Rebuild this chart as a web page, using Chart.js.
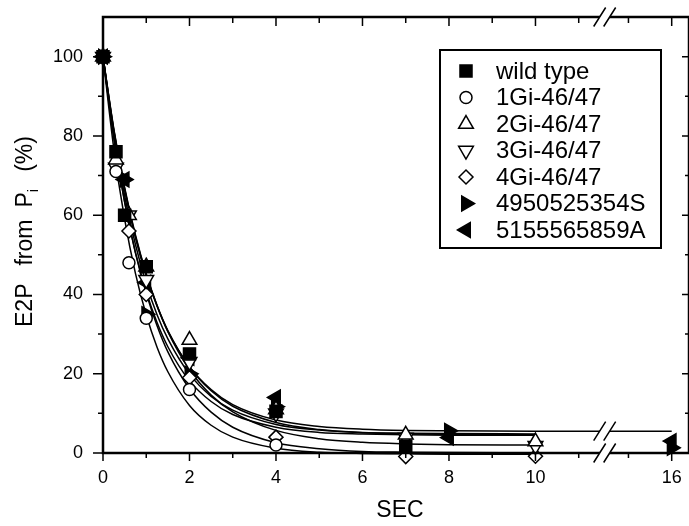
<!DOCTYPE html>
<html>
<head>
<meta charset="utf-8">
<script src="https://cdn.jsdelivr.net/npm/chart.js@4.4.1/dist/chart.umd.min.js"></script>
<style>
  html, body { margin: 0; padding: 0; background: #fff; }
  canvas { display: block; }
</style>
</head>
<body>
<canvas id="e2pChart" width="689" height="526"></canvas>
<script>
// tempi di campionamento (s)
const timesWild = [0, 0.3, 0.5, 1, 2, 4, 7];
const timesGi = [0, 0.3, 0.6, 1, 2, 4, 7, 10];
const timesSA = [0, 0.5, 1, 2, 4, 8, 16];

// E2P da Pi (%) misurato
const wildType = [100, 76, 60, 47, 25, 10.5, 1.7];
const gi1 = [100, 71, 48, 34, 16, 2, -2, -2];
const gi2 = [100, 74, 60, 47, 28.5, 11, 4.6, 2.9];
const gi3 = [100, 72, 60, 43.7, 23, 10, 3.9, 1.8];
const gi4 = [100, 73, 56, 40, 19, 4, -0.9, -0.8];
const mut4950 = [100, 69, 35, 20, 11.7, 5.6, 1.3];
const mut5155 = [100, 69, 43, 24, 14, 3.9, 3];

// curve di fit (valori letti ai tempi fitTimes)
const fitTimes = [0, 0.25, 0.5, 0.75, 1, 1.25, 1.5, 2, 2.5, 3, 4, 5, 6, 7, 8, 10];
const fitTimesLong = [0, 0.25, 0.5, 0.75, 1, 1.25, 1.5, 2, 2.5, 3, 4, 5, 6, 7, 8, 10, 16];
const fitWild = [100, 80.4, 64.9, 52.6, 42.7, 34.9, 28.8, 19.9, 14.3, 10.8, 7.2, 5.8, 5.2, 5.0, 4.9, 4.8];
const fitGi1 = [100, 76.8, 59.0, 45.3, 34.8, 26.7, 20.5, 12.0, 7.0, 4.0, 1.2, 0.2, -0.1, -0.2, -0.3, -0.3];
const fitGi2 = [100, 81.5, 66.7, 54.7, 45.0, 37.2, 30.9, 21.7, 15.7, 11.8, 7.7, 5.9, 5.1, 4.8, 4.7, 4.6];
const fitGi3 = [100, 81.8, 67.0, 55.0, 45.2, 37.2, 30.6, 21.0, 14.6, 10.4, 5.7, 3.6, 2.7, 2.3, 2.1, 2.0];
const fitGi4 = [100, 79.7, 63.4, 50.5, 40.3, 32.1, 25.5, 16.2, 10.3, 6.5, 2.6, 1.1, 0.4, 0.2, 0.1, 0.0];
const fit4950 = [100, 79.4, 63.3, 50.6, 40.7, 32.9, 26.8, 18.2, 13.0, 9.7, 6.5, 5.2, 4.8, 4.6, 4.5, 4.5];
const fit5155 = [100, 81.3, 66.4, 54.3, 44.7, 37.0, 30.7, 21.8, 16.0, 12.2, 8.3, 6.7, 6.0, 5.7, 5.6, 5.5, 5.5];

// etichette e tacche degli assi
const xTickValues = [0, 2, 4, 6, 8, 10, 16];
const xMinorTicks = [1, 3, 5, 7, 9, 11, 15];
const yTickValues = [0, 20, 40, 60, 80, 100];
const yMinorTicks = [10, 30, 50, 70, 90];

// asse X interrotto: dopo BREAK_AT i tempi vengono spostati indietro
const BREAK_AT = 11.6;
const BREAK_SHIFT = 2.85;
function axisX(t) {
    return t > BREAK_AT ? t - BREAK_SHIFT : t;
}

const FONT = '"Liberation Sans", Arial, Helvetica, sans-serif';

const series = [
    { label: "wild type", t: timesWild, v: wildType, ft: fitTimes, fv: fitWild, style: "rect", rot: 0, r: 8.5, fill: "#000" },
    { label: "1Gi-46/47", t: timesGi, v: gi1, ft: fitTimes, fv: fitGi1, style: "circle", rot: 0, r: 6, fill: "#fff" },
    { label: "2Gi-46/47", t: timesGi, v: gi2, ft: fitTimes, fv: fitGi2, style: "triangle", rot: 0, r: 8.5, fill: "#fff" },
    { label: "3Gi-46/47", t: timesGi, v: gi3, ft: fitTimes, fv: fitGi3, style: "triangle", rot: 180, r: 8.5, fill: "#fff" },
    { label: "4Gi-46/47", t: timesGi, v: gi4, ft: fitTimes, fv: fitGi4, style: "rectRot", rot: 0, r: 7, fill: "#fff" },
    { label: "4950525354S", t: timesSA, v: mut4950, ft: fitTimes, fv: fit4950, style: "triangle", rot: 90, r: 8.5, fill: "#000" },
    { label: "5155565859A", t: timesSA, v: mut5155, ft: fitTimesLong, fv: fit5155, style: "triangle", rot: 270, r: 8.5, fill: "#000" }
];

const markerSets = series.map(s => ({
    label: s.label,
    data: s.t.map((t, i) => ({ x: axisX(t), y: s.v[i] })),
    showLine: false,
    pointStyle: s.style,
    pointRotation: s.rot,
    pointRadius: s.r,
    pointBorderWidth: 1.5,
    pointBorderColor: "#000",
    pointBackgroundColor: s.fill,
    clip: false
}));

const curveSets = series.map(s => ({
    label: s.label + " fit",
    data: s.ft.map((t, i) => ({ x: axisX(t), y: s.fv[i] })),
    borderColor: "#000",
    borderWidth: 1.5,
    pointRadius: 0,
    cubicInterpolationMode: "monotone",
    fill: false,
    clip: false
}));

// niente margini automatici per le etichette: l'area del grafico resta fissa
function noPadding(scale) {
    scale.paddingTop = 0;
    scale.paddingBottom = 0;
    scale.paddingLeft = 0;
    scale.paddingRight = 0;
}

// cornice con tacche (esterne a sinistra/sotto, interne sopra/destra)
const framePlugin = {
    id: "frame",
    afterDatasetsDraw(chart) {
        const { ctx, chartArea: a, scales: { x, y } } = chart;
        ctx.save();
        ctx.strokeStyle = "#000";
        ctx.lineWidth = 2.5;
        ctx.strokeRect(a.left, a.top, a.right - a.left, a.bottom - a.top);

        ctx.lineWidth = 1.5;
        ctx.beginPath();
        const xTick = (t, down, up) => {
            const px = x.getPixelForValue(axisX(t));
            ctx.moveTo(px, a.bottom); ctx.lineTo(px, a.bottom + down);
            ctx.moveTo(px, a.top); ctx.lineTo(px, a.top + up);
        };
        xTickValues.forEach(t => xTick(t, 8, 9));
        xMinorTicks.forEach(t => xTick(t, 5, 6));
        const yTick = (v, out, inn) => {
            const py = y.getPixelForValue(v);
            ctx.moveTo(a.left, py); ctx.lineTo(a.left - out, py);
            ctx.moveTo(a.right, py); ctx.lineTo(a.right - inn, py);
        };
        yTickValues.forEach(v => yTick(v, 10, 7));
        yMinorTicks.forEach(v => yTick(v, 5, 4));
        ctx.stroke();

        // segni di interruzione "//"
        const drawBreak = (cx, cy) => {
            const dx = 6, dy = 9.5, sep = 5;
            ctx.fillStyle = "#fff";
            ctx.beginPath();
            ctx.moveTo(cx - sep - dx, cy + dy);
            ctx.lineTo(cx - sep + dx, cy - dy);
            ctx.lineTo(cx + sep + dx, cy - dy);
            ctx.lineTo(cx + sep - dx, cy + dy);
            ctx.closePath();
            ctx.fill();
            ctx.beginPath();
            ctx.moveTo(cx - sep - dx, cy + dy); ctx.lineTo(cx - sep + dx, cy - dy);
            ctx.moveTo(cx + sep - dx, cy + dy); ctx.lineTo(cx + sep + dx, cy - dy);
            ctx.stroke();
        };
        const bx = x.getPixelForValue(BREAK_AT);
        drawBreak(bx, a.bottom);
        drawBreak(bx, a.top);
        drawBreak(bx, y.getPixelForValue(fit5155[fit5155.length - 1]));
        ctx.restore();
    }
};

// titoli degli assi (con il pedice di Pi)
const titlesPlugin = {
    id: "titles",
    afterDraw(chart) {
        const { ctx, chartArea: a } = chart;
        ctx.save();
        ctx.fillStyle = "#000";
        ctx.font = "23px " + FONT;
        ctx.textAlign = "center";
        ctx.textBaseline = "alphabetic";
        ctx.fillText("SEC", (a.left + a.right) / 2 + 4, a.bottom + 64);

        ctx.translate(32, a.bottom - 126);
        ctx.rotate(-Math.PI / 2);
        ctx.textAlign = "left";
        let pos = 0;
        const put = (txt, gap) => {
            ctx.fillText(txt, pos, 0);
            pos += ctx.measureText(txt).width + gap;
        };
        put("E2P", 18);
        put("from", 12);
        put("P", 0);
        ctx.font = "15px " + FONT;
        ctx.fillText("i", pos, 6);
        pos += ctx.measureText("i").width + 17;
        ctx.font = "23px " + FONT;
        put("(%)", 0);
        ctx.restore();
    }
};

// legenda nel riquadro in alto a destra
const legendPlugin = {
    id: "boxLegend",
    afterDraw(chart) {
        const { ctx, chartArea: a } = chart;
        const left = a.right - 249, top = a.top + 33;
        ctx.save();
        ctx.strokeStyle = "#000";
        ctx.lineWidth = 2;
        ctx.fillStyle = "#fff";
        ctx.fillRect(left, top, 221, 198);
        ctx.strokeRect(left, top, 221, 198);
        ctx.font = "24px " + FONT;
        ctx.textBaseline = "middle";
        series.forEach((s, i) => {
            const yy = top + 21 + i * 26.5;
            ctx.fillStyle = s.fill;
            ctx.lineWidth = 1.5;
            Chart.helpers.drawPoint(ctx, { pointStyle: s.style, rotation: s.rot, radius: s.r, borderWidth: 1.5 }, left + 26, yy);
            ctx.fillStyle = "#000";
            ctx.fillText(s.label, left + 56, yy + 1);
        });
        ctx.restore();
    }
};

new Chart(document.getElementById("e2pChart").getContext("2d"), {
    type: "line",
    data: { datasets: markerSets.concat(curveSets) },
    options: {
        responsive: false,
        animation: false,
        devicePixelRatio: 1,
        events: [],
        layout: { autoPadding: false, padding: { top: 17, right: -1, bottom: 0, left: 0 } },
        plugins: { legend: { display: false }, tooltip: { enabled: false } },
        scales: {
            x: {
                type: "linear",
                min: 0,
                max: axisX(16.4),
                grid: { display: false, drawTicks: false },
                border: { display: false },
                afterBuildTicks: scale => { scale.ticks = xTickValues.map(t => ({ value: axisX(t) })); },
                afterFit: scale => { scale.height = 73; noPadding(scale); },
                ticks: {
                    autoSkip: false,
                    maxRotation: 0,
                    padding: 14,
                    color: "#000",
                    font: { family: FONT, size: 18 },
                    callback: (value, index) => String(xTickValues[index])
                }
            },
            y: {
                min: 0,
                max: 110,
                grid: { display: false, drawTicks: false },
                border: { display: false },
                afterBuildTicks: scale => { scale.ticks = yTickValues.map(v => ({ value: v })); },
                afterFit: scale => { scale.width = 103; noPadding(scale); },
                ticks: {
                    padding: 20,
                    color: "#000",
                    font: { family: FONT, size: 18 }
                }
            }
        }
    },
    plugins: [framePlugin, titlesPlugin, legendPlugin]
});
</script>
</body>
</html>
